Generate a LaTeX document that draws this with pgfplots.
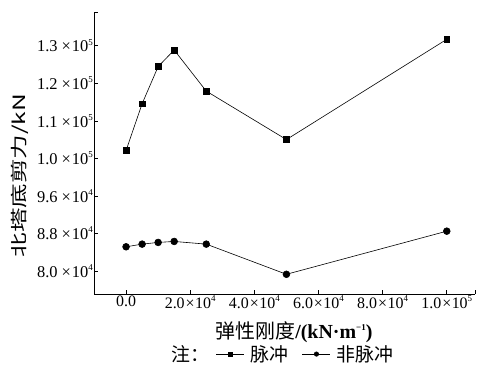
\documentclass[border=0pt]{standalone}
\usepackage{pgfplots}
\pgfplotsset{compat=1.18}
\usepackage{fontspec}
\setmainfont{Liberation Serif}
\newfontfamily\cjk{Noto Sans CJK SC}
\newcommand{\SP}[1]{\raisebox{0.9ex}{\fontsize{9}{9}\selectfont #1}}
\newcommand{\XT}[2]{\mbox{\fontsize{16}{18}\selectfont #1\hspace{1bp}×\hspace{0.5bp}10\SP{#2}}}
\newcommand{\YT}[2]{\mbox{\fontsize{16.5}{18}\selectfont #1\hspace{4bp}×\hspace{1bp}10\SP{#2}}}
\begin{document}
\begin{tikzpicture}
\path[use as bounding box] (0,0) rectangle (477bp,375bp);
\begin{axis}[
  at={(94bp,81bp)}, anchor=south west,
  scale only axis, width=381bp, height=282bp,
  xmin=-10000, xmax=108800, ymin=75100, ymax=135200,
  axis lines=left, axis line style={-, line width=0.7pt},
  tick align=inside, major tick length=4bp,
  tick style={black, line width=0.6pt},
  scaled ticks=false,
  xtick={0,20000,40000,60000,80000,100000},
  xticklabels={\mbox{\fontsize{16}{18}\selectfont 0.0},\XT{2.0}{4},\XT{4.0}{4},\XT{6.0}{4},\XT{8.0}{4},\XT{1.0}{5}},
  ytick={80000,88000,96000,104000,112000,120000,128000},
  yticklabels={\YT{8.0}{4},\YT{8.8}{4},\YT{9.6}{4},\YT{1.0}{5},\YT{1.1}{5},\YT{1.2}{5},\YT{1.3}{5}},
  extra x ticks={108800}, extra x tick labels={},
  extra y ticks={135200}, extra y tick labels={},
  xticklabel style={inner sep=1.5pt},
  yticklabel style={inner sep=1pt},
  xlabel={\cjk 弹性刚度\rmfamily\bfseries/(kN·m\SP{−1})},
  xlabel style={at={(axis description cs:0.525,-0.135)}, anchor=center, font=\fontsize{20}{22}\selectfont},
  ylabel={\cjk 北塔底剪力/kN},
  ylabel style={at={(axis description cs:-0.194,0.42)}, anchor=center, rotate=0, xscale=1.45, font=\fontsize{17}{19}\selectfont},
  legend columns=-1,
  legend style={draw=none, fill=none, at={(axis description cs:0.49,-0.213)}, anchor=center,
    font=\fontsize{19}{21}\selectfont\cjk, inner sep=0pt,
    /tikz/every even column/.append style={column sep=12bp},
    /tikz/every odd column/.append style={column sep=4bp}},
  legend image code/.code={\draw[#1, mark size=2.2bp, mark repeat=2, mark phase=2] plot coordinates {(0bp,0bp) (14bp,0bp) (28bp,0bp)};},
]
\addlegendimage{empty legend}
\addlegendentry{注：\kern-8bp}
\addplot[black, line width=0.6pt, mark=square*, mark size=2.9bp] coordinates {
  (0,105680) (5000,115650) (10000,123560) (15000,127100) (25000,118340) (50000,108010) (100000,129380)
};
\addlegendentry{脉冲}
\addplot[black, line width=0.6pt, mark=*, mark size=3.4bp] coordinates {
  (0,85160) (5000,85730) (10000,86090) (15000,86300) (25000,85730) (50000,79300) (100000,88490)
};
\addlegendentry{非脉冲}
\end{axis}
\end{tikzpicture}
\end{document}
